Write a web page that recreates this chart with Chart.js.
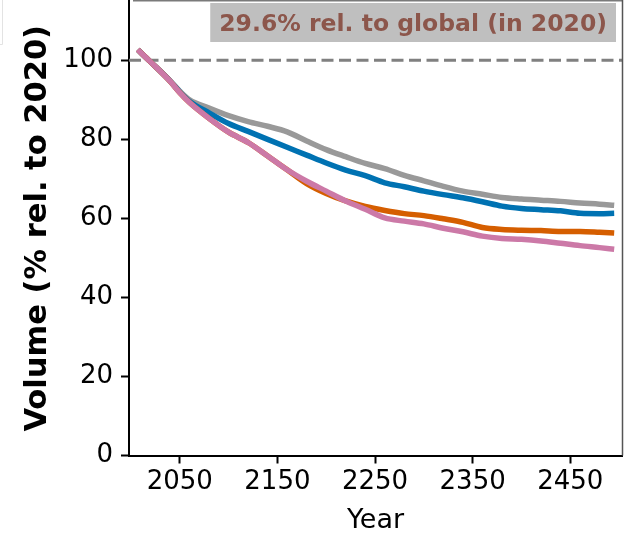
<!DOCTYPE html>
<html>
<head>
<meta charset="utf-8">
<script src="https://cdn.jsdelivr.net/npm/chart.js@4"></script>
<style>
  html, body { margin: 0; padding: 0; background: #fff; }
  #wrap { width: 626px; height: 537px; position: relative; }
</style>
</head>
<body>
<div id="wrap"><canvas id="c" width="626" height="537"></canvas></div>
<script>
// Years at which the volume series are sampled
const years = [2007, 2020, 2040, 2050, 2060, 2080, 2100, 2120, 2140, 2160, 2180, 2200, 2220, 2240,
               2260, 2280, 2300, 2320, 2340, 2360, 2380, 2400, 2420, 2440, 2460, 2480, 2495];

// Volume, % relative to 2020
const greyValues   = [102.7, 99.6, 94.8, 92.2, 90.0, 87.9, 86.0, 84.5, 83.3, 81.9, 79.6, 77.4, 75.6, 73.9,
                      72.6, 70.9, 69.5, 68.1, 66.9, 66.1, 65.3, 64.9, 64.6, 64.3, 63.9, 63.6, 63.3];
const blueValues   = [102.7, 99.6, 94.8, 92.0, 89.6, 86.7, 84.0, 82.0, 80.0, 78.0, 76.0, 74.0, 72.2, 70.8,
                      69.0, 68.0, 66.9, 66.0, 65.2, 64.2, 63.1, 62.5, 62.2, 61.9, 61.3, 61.2, 61.3];
const orangeValues = [102.7, 99.6, 94.7, 91.8, 89.3, 85.3, 81.8, 79.2, 75.8, 72.3, 68.8, 66.3, 64.4, 63.0,
                      62.0, 61.2, 60.7, 59.9, 59.0, 57.7, 57.2, 57.0, 56.9, 56.7, 56.7, 56.5, 56.3];
const pinkValues   = [102.7, 99.6, 94.7, 91.8, 89.3, 85.3, 81.8, 79.2, 75.8, 72.3, 69.4, 66.9, 64.4, 62.3,
                      60.1, 59.3, 58.6, 57.5, 56.6, 55.5, 54.9, 54.7, 54.3, 53.7, 53.1, 52.6, 52.2];

// Axis extents, tick values and labels
const xRange = [1998, 2503];
const yRange = [0, 115];
const xTickValues = [2050, 2150, 2250, 2350, 2450];
const yTickValues = [0, 20, 40, 60, 80, 100];
const referenceLevel = 100;
const shareLabel = '29.6% rel. to global (in 2020)';

const toPoints = vals => vals.map((v, i) => ({ x: years[i], y: v }));

// Draws the share annotation plus the upper/right frame edges
const frameExtras = {
  id: 'frameExtras',
  afterDraw(chart) {
    const { ctx, chartArea: a } = chart;
    ctx.save();
    // upper and right frame edges
    ctx.lineWidth = 1.5;
    ctx.strokeStyle = '#7a7a7a';
    ctx.beginPath();
    ctx.moveTo(a.left + 4, 0.75);
    ctx.lineTo(a.right, 0.75);
    ctx.stroke();
    ctx.strokeStyle = '#555';
    ctx.beginPath();
    ctx.moveTo(a.right + 0.5, 0);
    ctx.lineTo(a.right + 0.5, a.bottom);
    ctx.stroke();

    // annotation box
    ctx.font = 'bold 23.5px "DejaVu Sans"';
    const tw = ctx.measureText(shareLabel).width;
    const boxRight = a.right - 6;
    const boxW = tw + 18;
    const boxTop = a.top + 2;
    const boxH = 39;
    ctx.fillStyle = '#bfbfbf';
    ctx.fillRect(boxRight - boxW, boxTop, boxW, boxH);
    ctx.fillStyle = '#8c564b';
    ctx.textAlign = 'left';
    ctx.textBaseline = 'alphabetic';
    ctx.fillText(shareLabel, boxRight - boxW + 9, boxTop + 27.5);

    // faint edge of a neighbouring panel
    ctx.strokeStyle = '#e3e3e3';
    ctx.lineWidth = 1;
    ctx.beginPath();
    ctx.moveTo(2.5, 0);
    ctx.lineTo(2.5, 44.5);
    ctx.lineTo(0, 44.5);
    ctx.stroke();
    ctx.restore();
  }
};

const seriesStyle = (color) => ({
  borderColor: color,
  backgroundColor: color,
  borderWidth: 5.5,
  pointRadius: 0,
  fill: false,
  cubicInterpolationMode: 'monotone',
  borderCapStyle: 'butt',
  borderJoinStyle: 'round'
});

new Chart(document.getElementById('c'), {
  type: 'line',
  data: {
    datasets: [
      { label: 'reference', data: [{ x: xRange[0], y: referenceLevel }, { x: xRange[1], y: referenceLevel }],
        borderColor: '#808080', borderWidth: 3, borderDash: [12, 5.5], pointRadius: 0, order: 5 },
      { label: 'grey',   data: toPoints(greyValues),   ...seriesStyle('#999999'), order: 4 },
      { label: 'blue',   data: toPoints(blueValues),   ...seriesStyle('#0072B2'), order: 3 },
      { label: 'orange', data: toPoints(orangeValues), ...seriesStyle('#D55E00'), order: 2 },
      { label: 'pink',   data: toPoints(pinkValues),   ...seriesStyle('#CC79A7'), order: 1 }
    ]
  },
  options: {
    responsive: false,
    animation: false,
    devicePixelRatio: 1,
    layout: { padding: { left: 0, right: 4, top: 1, bottom: 0 } },
    plugins: { legend: { display: false }, tooltip: { enabled: false } },
    scales: {
      x: {
        type: 'linear',
        min: xRange[0],
        max: xRange[1],
        afterFit: s => { s.height = 81.5; s.paddingLeft = 0; s.paddingRight = 0; },
        afterBuildTicks: s => { s.ticks = xTickValues.map(v => ({ value: v })); },
        ticks: {
          color: '#000',
          font: { family: 'DejaVu Sans', size: 26 },
          padding: 3,
          maxRotation: 0,
          callback: v => String(v)
        },
        grid: { display: true, drawOnChartArea: false, drawTicks: true, tickLength: 8, tickWidth: 2, tickColor: '#000' },
        border: { display: true, color: '#000', width: 2 },
        title: {
          display: true,
          text: 'Year',
          color: '#000',
          font: { family: 'DejaVu Sans', size: 27 },
          padding: { top: 0, bottom: 0 }
        }
      },
      y: {
        type: 'linear',
        min: yRange[0],
        max: yRange[1],
        afterFit: s => { s.width = 129; s.paddingTop = 0; s.paddingBottom = 0; },
        afterBuildTicks: s => { s.ticks = yTickValues.map(v => ({ value: v })); },
        ticks: {
          color: '#000',
          font: { family: 'DejaVu Sans', size: 26 },
          padding: 8,
          callback: v => String(v)
        },
        grid: { display: true, drawOnChartArea: false, drawTicks: true, tickLength: 8, tickWidth: 2, tickColor: '#000' },
        border: { display: true, color: '#000', width: 2 },
        title: {
          display: true,
          text: 'Volume (% rel. to 2020)',
          color: '#000',
          font: { family: 'DejaVu Sans', size: 30.5, weight: 'bold' },
          padding: { top: 20, bottom: 0 }
        }
      }
    }
  },
  plugins: [frameExtras]
});
</script>
</body>
</html>
